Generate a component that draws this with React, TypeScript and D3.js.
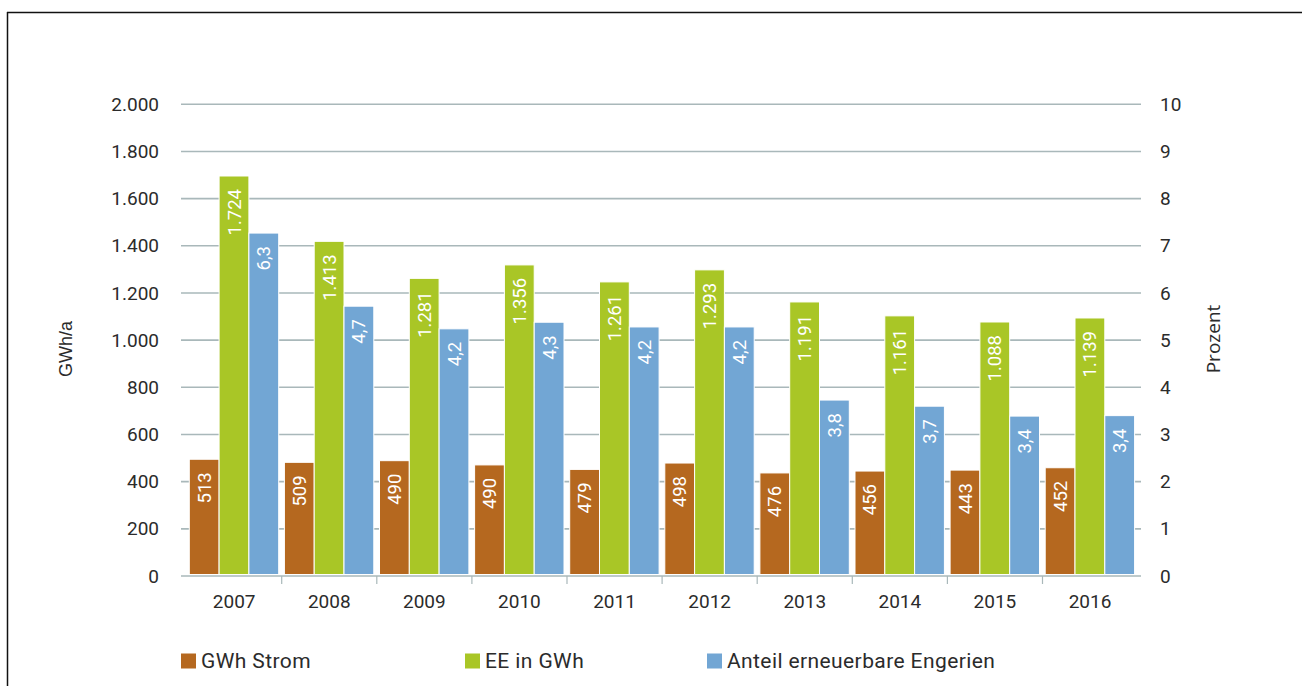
import React from "react";
import * as d3 from "d3";

const years = ["2007", "2008", "2009", "2010", "2011", "2012", "2013", "2014", "2015", "2016"];
// Bar heights as drawn in the picture (left axis GWh/a, right axis Prozent)
const stromHeight = [495, 482, 489, 471, 452, 479, 437, 445, 449, 459];
const eeHeight = [1696, 1419, 1262, 1319, 1247, 1298, 1162, 1103, 1077, 1094];
const anteilHeight = [7.27, 5.72, 5.24, 5.38, 5.28, 5.28, 3.73, 3.6, 3.39, 3.4];
// Printed value labels
const stromLabels = ["513", "509", "490", "490", "479", "498", "476", "456", "443", "452"];
const eeLabels = ["1.724", "1.413", "1.281", "1.356", "1.261", "1.293", "1.191", "1.161", "1.088", "1.139"];
const anteilLabels = ["6,3", "4,7", "4,2", "4,3", "4,2", "4,2", "3,8", "3,7", "3,4", "3,4"];
const leftTicks = [0, 200, 400, 600, 800, 1000, 1200, 1400, 1600, 1800, 2000];
const rightTicks = [0, 1, 2, 3, 4, 5, 6, 7, 8, 9, 10];
const seriesNames = ["GWh Strom", "EE in GWh", "Anteil erneuerbare Engerien"];
const colors = ["#B5681F", "#A9C626", "#72A6D4"];

const fmtLeft = (v: number) => d3.format(",")(v).replace(/,/g, ".");

export default function App() {
  const W = 1302, H = 686;
  const gridX0 = 181, gridX1 = 1141;
  const yTop = 104.3, yBase = 576;
  const x = d3.scaleBand<string>().domain(years).range([186.6, 1137.6]).paddingInner(0).paddingOuter(0);
  const inner = d3.scaleBand<string>().domain(["s", "e", "a"]).range([2.7, x.bandwidth() - 3]).padding(0);
  const yL = d3.scaleLinear().domain([0, 2000]).range([yBase, yTop]);
  const yR = d3.scaleLinear().domain([0, 10]).range([yBase, yTop]);
  const font = "Roboto, 'DejaVu Sans', sans-serif";
  const textCol = "#2b2b2b";

  const series = [
    { key: "s", h: stromHeight, lab: stromLabels, y: yL, c: colors[0] },
    { key: "e", h: eeHeight, lab: eeLabels, y: yL, c: colors[1] },
    { key: "a", h: anteilHeight, lab: anteilLabels, y: yR, c: colors[2] },
  ];

  const legendX = [181, 465, 707];

  return (
    <svg width={W} height={H} style={{ position: "absolute", left: 0, top: 0, background: "#fff" }}>
      <rect x={0} y={0} width={W} height={H} fill="#fff" />
      {/* frame */}
      <line x1={7.5} y1={12} x2={7.5} y2={H} stroke="#111" strokeWidth={1.5} />
      <line x1={7} y1={12.5} x2={W} y2={12.5} stroke="#111" strokeWidth={1.5} />
      {/* gridlines */}
      {leftTicks.map((t) => (
        <line key={"g" + t} x1={gridX0} x2={gridX1} y1={yL(t)} y2={yL(t)} stroke="#A9B8BA" strokeWidth={1.6} />
      ))}
      {/* category ticks */}
      {years.slice(1).map((yr) => (
        <line key={"t" + yr} x1={x(yr)!} x2={x(yr)!} y1={yBase} y2={yBase + 8} stroke="#A9B8BA" strokeWidth={1.2} />
      ))}
      {/* bars */}
      {series.map((s) =>
        years.map((yr, i) => {
          const bx = x(yr)! + inner(s.key)!;
          const by = s.y(s.h[i]);
          const bw = inner.bandwidth();
          const cx = bx + bw / 2;
          const ly = by + 13;
          return (
            <g key={s.key + yr}>
              <rect x={bx} y={by} width={bw} height={yBase - 1.5 - by} fill={s.c} stroke="#fff" strokeWidth={1} />
              <text
                transform={`translate(${cx + 6.5},${ly}) rotate(-90)`}
                textAnchor="end"
                fill="#fff"
                fontFamily={font}
                fontSize={18.5}
              >
                {s.lab[i]}
              </text>
            </g>
          );
        })
      )}
      {/* left ticks */}
      {leftTicks.map((t) => (
        <text key={"l" + t} x={159} y={yL(t)} dy="0.35em" textAnchor="end" fill={textCol} fontFamily={font} fontSize={19}>
          {fmtLeft(t)}
        </text>
      ))}
      {/* right ticks */}
      {rightTicks.map((t) => (
        <text key={"r" + t} x={1160} y={yR(t)} dy="0.35em" textAnchor="start" fill={textCol} fontFamily={font} fontSize={19}>
          {t}
        </text>
      ))}
      {/* year labels */}
      {years.map((yr) => (
        <text key={"y" + yr} x={x(yr)! + x.bandwidth() / 2} y={601} dy="0.35em" textAnchor="middle" fill={textCol} fontFamily={font} fontSize={19}>
          {yr}
        </text>
      ))}
      {/* axis titles */}
      <text transform={`translate(66,349) rotate(-90)`} textAnchor="middle" dy="0.35em" fill={textCol} fontFamily="'Liberation Sans', Arial, sans-serif" fontSize={18}>
        GWh/a
      </text>
      <text transform={`translate(1213,339) rotate(-90)`} textAnchor="middle" dy="0.35em" fill={textCol} fontFamily="'Open Sans', sans-serif" fontSize={19}>
        Prozent
      </text>
      {/* legend */}
      {seriesNames.map((n, i) => (
        <g key={n}>
          <rect x={legendX[i]} y={653.5} width={15} height={15} fill={colors[i]} />
          <text x={legendX[i] + 20} y={661} dy="0.35em" fill={textCol} fontFamily={font} fontSize={21} letterSpacing={0.4}>
            {n}
          </text>
        </g>
      ))}
    </svg>
  );
}
